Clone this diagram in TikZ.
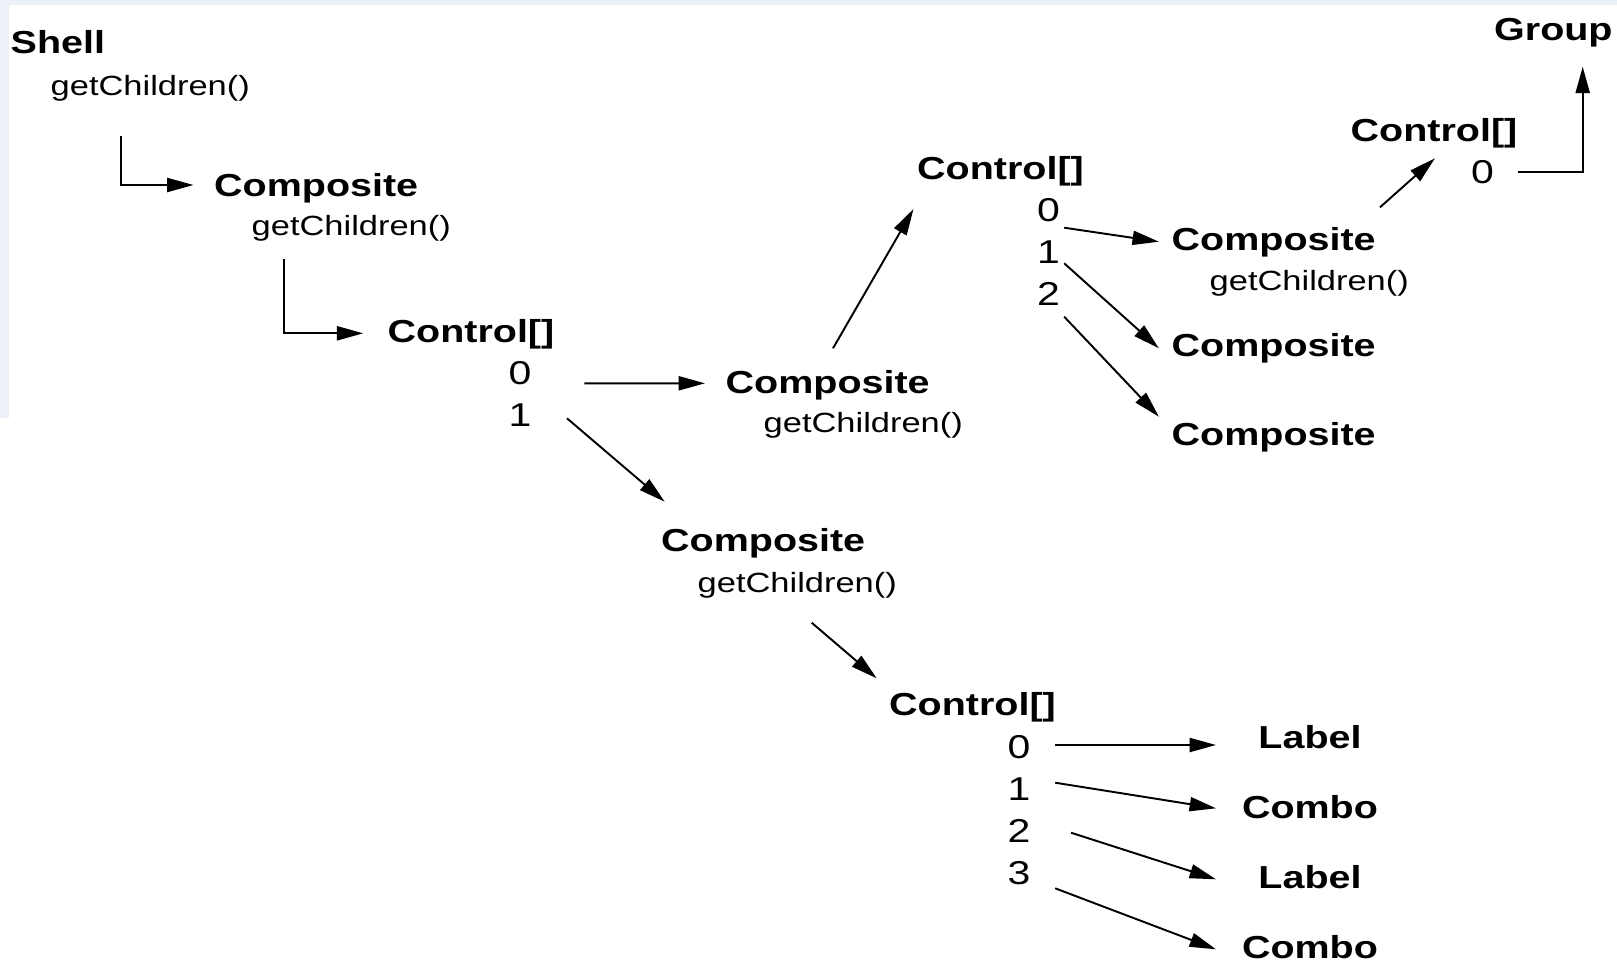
\documentclass[tikz,border=0pt]{standalone}
\usepackage{fontspec}
\setmainfont{Liberation Sans}[FakeStretch=1.24]
\usepackage{tikz}
\usetikzlibrary{arrows.meta}
\definecolor{fond}{RGB}{236,241,248}
\tikzset{
Classe/.style={
 font=\fontsize{9.05}{11}\selectfont\bfseries,
 inner sep=0pt,
 anchor=base west
 },
Methode/.style={
 font=\fontsize{7.9}{9}\selectfont,
 inner sep=0pt,
 anchor=base west
 },
Indice/.style={
 font=\fontsize{9.4}{11}\selectfont,
 inner sep=0pt,
 anchor=base
 },
Fleche/.style={
 draw=black,
 line width=0.55pt,
 -{Triangle[length=7.5pt,width=4pt]}
 }
}

\begin{document}
\begin{tikzpicture}[x=0.01cm,y=-0.01cm]
\useasboundingbox (0,0) rectangle (1617,963);
\fill[fond] (0,0) rectangle (1617,5);
\fill[fond] (0,0) rectangle (9,418);
\node[Classe] (shell) at (10,53.3) {Shell};
\node[Methode] (shellm) at (50,95) {getChildren()};
\node[Classe] (comp1) at (213.5,196.7) {Composite};
\node[Methode] (comp1m) at (251,235) {getChildren()};
\node[Classe] (ctrl1) at (387,342.5) {Control[]};
\node[Indice] (ctrl1n0) at (520,384) {0};
\node[Indice] (ctrl1n1) at (520,426) {1};
\node[Classe] (comp2) at (725,393.3) {Composite};
\node[Methode] (comp2m) at (763,432) {getChildren()};
\node[Classe] (comp3) at (660.5,551.7) {Composite};
\node[Methode] (comp3m) at (697,592) {getChildren()};
\node[Classe] (ctrl3) at (888.5,715.5) {Control[]};
\foreach \i/\y in {0/758,1/800,2/842,3/884}
 \node[Indice] (ctrl3n\i) at (1019,\y) {\i};
\node[Classe,anchor=base] (lab1) at (1310,748.3) {Label};
\node[Classe,anchor=base] (combo1) at (1310,818.3) {Combo};
\node[Classe,anchor=base] (lab2) at (1310,888.3) {Label};
\node[Classe,anchor=base] (combo2) at (1310,958) {Combo};
\node[Classe] (ctrl2) at (916.5,179) {Control[]};
\foreach \i/\y in {0/221,1/263,2/305}
 \node[Indice] (ctrl2n\i) at (1048.5,\y) {\i};
\node[Classe] (comp4) at (1171,250) {Composite};
\node[Methode] (comp4m) at (1209,290) {getChildren()};
\node[Classe] (comp5) at (1171,356.5) {Composite};
\node[Classe] (comp6) at (1171,445) {Composite};
\node[Classe] (ctrl4) at (1350,141.7) {Control[]};
\node[Indice] (ctrl4n0) at (1482.5,183.3) {0};
\node[Classe] (group) at (1493.5,40) {Group};
\draw[Fleche] ([shift={(70.7,41)}]shellm.base west) |- ([shift={(-20,-11.7)}]comp1.base west);
\draw[Fleche] ([shift={(33,24.3)}]comp1m.base west) |- ([shift={(-23.7,-9.2)}]ctrl1.base west);
\draw[Fleche] ([shift={(64.3,-0.7)}]ctrl1n0.base) -- ([shift={(-20,-10)}]comp2.base west);
\draw[Fleche] ([shift={(47,-7.7)}]ctrl1n1.base) -- ([shift={(4.2,-50)}]comp3.base west);
\draw[Fleche] ([shift={(108,-45)}]comp2.base west) -- ([shift={(-3,30)}]ctrl2.base west);
\draw[Fleche] ([shift={(114.7,30.7)}]comp3m.base west) -- ([shift={(-11.8,-37.2)}]ctrl3.base west);
\draw[Fleche] ([shift={(36.2,-13)}]ctrl3n0.base) -- ([shift={(-94,-3.3)}]lab1.base);
\draw[Fleche] ([shift={(36.2,-17.3)}]ctrl3n1.base) -- ([shift={(-94,-10)}]combo1.base);
\draw[Fleche] ([shift={(52,-9.3)}]ctrl3n2.base) -- ([shift={(-94,-9)}]lab2.base);
\draw[Fleche] ([shift={(36.2,4.3)}]ctrl3n3.base) -- ([shift={(-94,-8.7)}]combo2.base);
\draw[Fleche] ([shift={(15.7,6.7)}]ctrl2n0.base) -- ([shift={(-12.1,-8.3)}]comp4.base west);
\draw[Fleche] ([shift={(15.7,0.3)}]ctrl2n1.base) -- ([shift={(-12.1,-8.2)}]comp5.base west);
\draw[Fleche] ([shift={(15.7,11.7)}]ctrl2n2.base) -- ([shift={(-12.1,-28.3)}]comp6.base west);
\draw[Fleche] ([shift={(209,-42.7)}]comp4.base west) -- ([shift={(85,16.6)}]ctrl4.base west);
\draw[Fleche] ([shift={(35.2,-11)}]ctrl4n0.base) -| ([shift={(89.2,26.7)}]group.base west);
\end{tikzpicture}
\end{document}
